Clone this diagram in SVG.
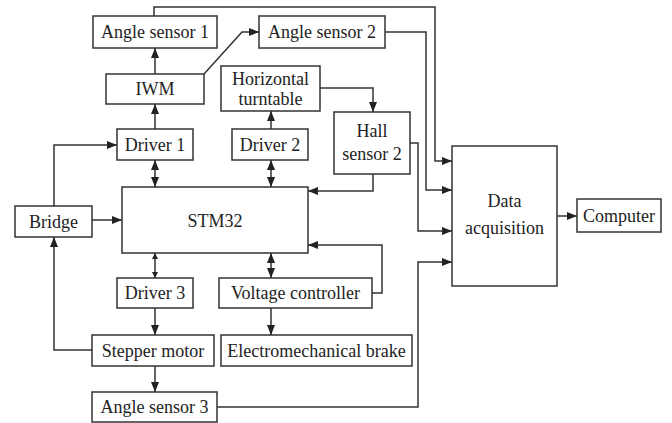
<svg xmlns="http://www.w3.org/2000/svg" width="672" height="423" viewBox="0 0 672 423">
<style>
.box{fill:#fff;stroke:#333;stroke-width:1.5}
.t{font-family:"Liberation Serif","Times New Roman",serif;font-size:18px;fill:#222;text-anchor:middle}
.c{fill:none;stroke:#333;stroke-width:1.5}
.a{marker-end:url(#ah)}
.d{marker-end:url(#ah);marker-start:url(#ah)}
.ds{marker-end:url(#as);marker-start:url(#as)}
</style>
<defs>
<marker id="ah" markerUnits="userSpaceOnUse" markerWidth="12" markerHeight="10" refX="10" refY="4" orient="auto-start-reverse">
<path d="M0,0 L10,4 L0,8 z" fill="#222"/>
</marker>
<marker id="as" markerUnits="userSpaceOnUse" markerWidth="8" markerHeight="8" refX="6" refY="3" orient="auto-start-reverse">
<path d="M0,0 L6,3 L0,6 z" fill="#222"/>
</marker>
</defs>
<rect width="672" height="423" fill="#fff"/>
<g id="connectors">
<path class="c a" d="M154,16 V7 H435 V161 H452"/>
<path class="c a" d="M385,32 H426 V190 H452"/>
<path class="c a" d="M204,74 L242,32 H259"/>
<path class="c a" d="M155,74 V48"/>
<path class="c a" d="M155,129 V104"/>
<path class="c a" d="M271,129 V111"/>
<path class="c a" d="M320,88 H373 V112"/>
<path class="c a" d="M373,174 V191 H308"/>
<path class="c a" d="M410,143 H418 V231 H452"/>
<path class="c a" d="M54,206 V145 H117"/>
<path class="c a" d="M92,220 H122"/>
<path class="c d" d="M155,160 V187"/>
<path class="c d" d="M271,160 V187"/>
<path class="c ds" d="M155,253 V278"/>
<path class="c d" d="M271,253 V278"/>
<path class="c a" d="M372,293 H382 V245 H308"/>
<path class="c a" d="M155,308 V335"/>
<path class="c a" d="M271,308 V335"/>
<path class="c a" d="M155,366 V392"/>
<path class="c a" d="M92,350 H54 V237"/>
<path class="c a" d="M217,407 H418 V262 H452"/>
<path class="c a" d="M557,216 H577"/>
</g>
<g id="angle-sensor-1"><rect class="box" x="93" y="16" width="124" height="32"/><text class="t" x="155" y="38">Angle sensor 1</text></g>
<g id="angle-sensor-2"><rect class="box" x="259" y="16" width="126" height="32"/><text class="t" x="322" y="38">Angle sensor 2</text></g>
<g id="iwm"><rect class="box" x="106" y="74" width="98" height="30"/><text class="t" x="155" y="95">IWM</text></g>
<g id="horizontal-turntable"><rect class="box" x="221" y="66" width="99" height="45"/><text class="t" x="270.5" y="85">Horizontal</text><text class="t" x="270.5" y="105">turntable</text></g>
<g id="driver-1"><rect class="box" x="117" y="129" width="76" height="31"/><text class="t" x="155" y="151">Driver 1</text></g>
<g id="driver-2"><rect class="box" x="232" y="129" width="76" height="31"/><text class="t" x="270" y="151">Driver 2</text></g>
<g id="hall-sensor-2"><rect class="box" x="334" y="112" width="76" height="62"/><text class="t" x="372" y="137">Hall</text><text class="t" x="372" y="160">sensor 2</text></g>
<g id="data-acquisition"><rect class="box" x="452" y="146" width="105" height="140"/><text class="t" x="504.5" y="207">Data</text><text class="t" x="504.5" y="234">acquisition</text></g>
<g id="computer"><rect class="box" x="577" y="199" width="84" height="33"/><text class="t" x="619" y="222">Computer</text></g>
<g id="bridge"><rect class="box" x="15" y="206" width="77" height="31"/><text class="t" x="53.5" y="228">Bridge</text></g>
<g id="stm32"><rect class="box" x="122" y="187" width="186" height="66"/><text class="t" x="215" y="227">STM32</text></g>
<g id="driver-3"><rect class="box" x="117" y="278" width="76" height="30"/><text class="t" x="155" y="299">Driver 3</text></g>
<g id="voltage-controller"><rect class="box" x="219" y="278" width="153" height="30"/><text class="t" x="295.5" y="299">Voltage controller</text></g>
<g id="stepper-motor"><rect class="box" x="92" y="335" width="122" height="31"/><text class="t" x="153" y="357">Stepper motor</text></g>
<g id="electromechanical-brake"><rect class="box" x="221" y="335" width="191" height="31"/><text class="t" x="316.5" y="357">Electromechanical brake</text></g>
<g id="angle-sensor-3"><rect class="box" x="92" y="392" width="125" height="30"/><text class="t" x="154.5" y="413">Angle sensor 3</text></g>
</svg>
